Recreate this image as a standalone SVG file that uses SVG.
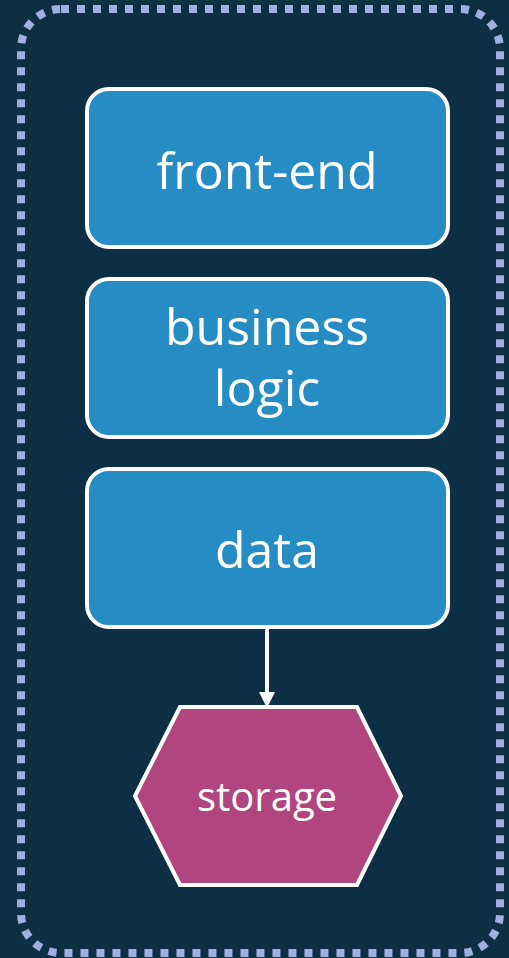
<svg xmlns="http://www.w3.org/2000/svg" width="509" height="958" viewBox="0 0 509 958">
<defs>
<style>
.box{fill:#268dc4;stroke:#ffffff;stroke-width:4}
.lbl{fill:#ffffff;font-family:"Open Sans","Noto Sans","DejaVu Sans",sans-serif;text-anchor:middle}
.big{font-size:50px}
.small{font-size:40px}
</style>
</defs>
<rect x="0" y="0" width="509" height="958" fill="#0d2f43"/>
<rect id="container" x="21" y="9" width="479" height="944" rx="40" fill="none" stroke="#9fb0e0" stroke-width="8" stroke-dasharray="8 8"/>
<g id="front-end">
<rect class="box" x="87" y="89" width="361" height="158" rx="22"/>
<text class="lbl big" x="267" y="189">front-end</text>
</g>
<g id="business-logic">
<rect class="box" x="87" y="279" width="361" height="158" rx="22"/>
<text class="lbl big" x="267" y="345">business</text>
<text class="lbl big" x="267" y="406">logic</text>
</g>
<g id="data">
<rect class="box" x="87" y="469" width="361" height="158" rx="22"/>
<text class="lbl big" x="267" y="568">data</text>
</g>
<g id="storage">
<polygon points="180,707 357,707 401,796 357,885 180,885 135,796" fill="#b0457f" stroke="#ffffff" stroke-width="4"/>
<text class="lbl small" x="267" y="811">storage</text>
</g>
<g id="connectors">
<line x1="267" y1="629" x2="267" y2="694" stroke="#ffffff" stroke-width="4"/>
<path d="M259,692 L275,692 L267,708 Z" fill="#ffffff"/>
</g>
</svg>
